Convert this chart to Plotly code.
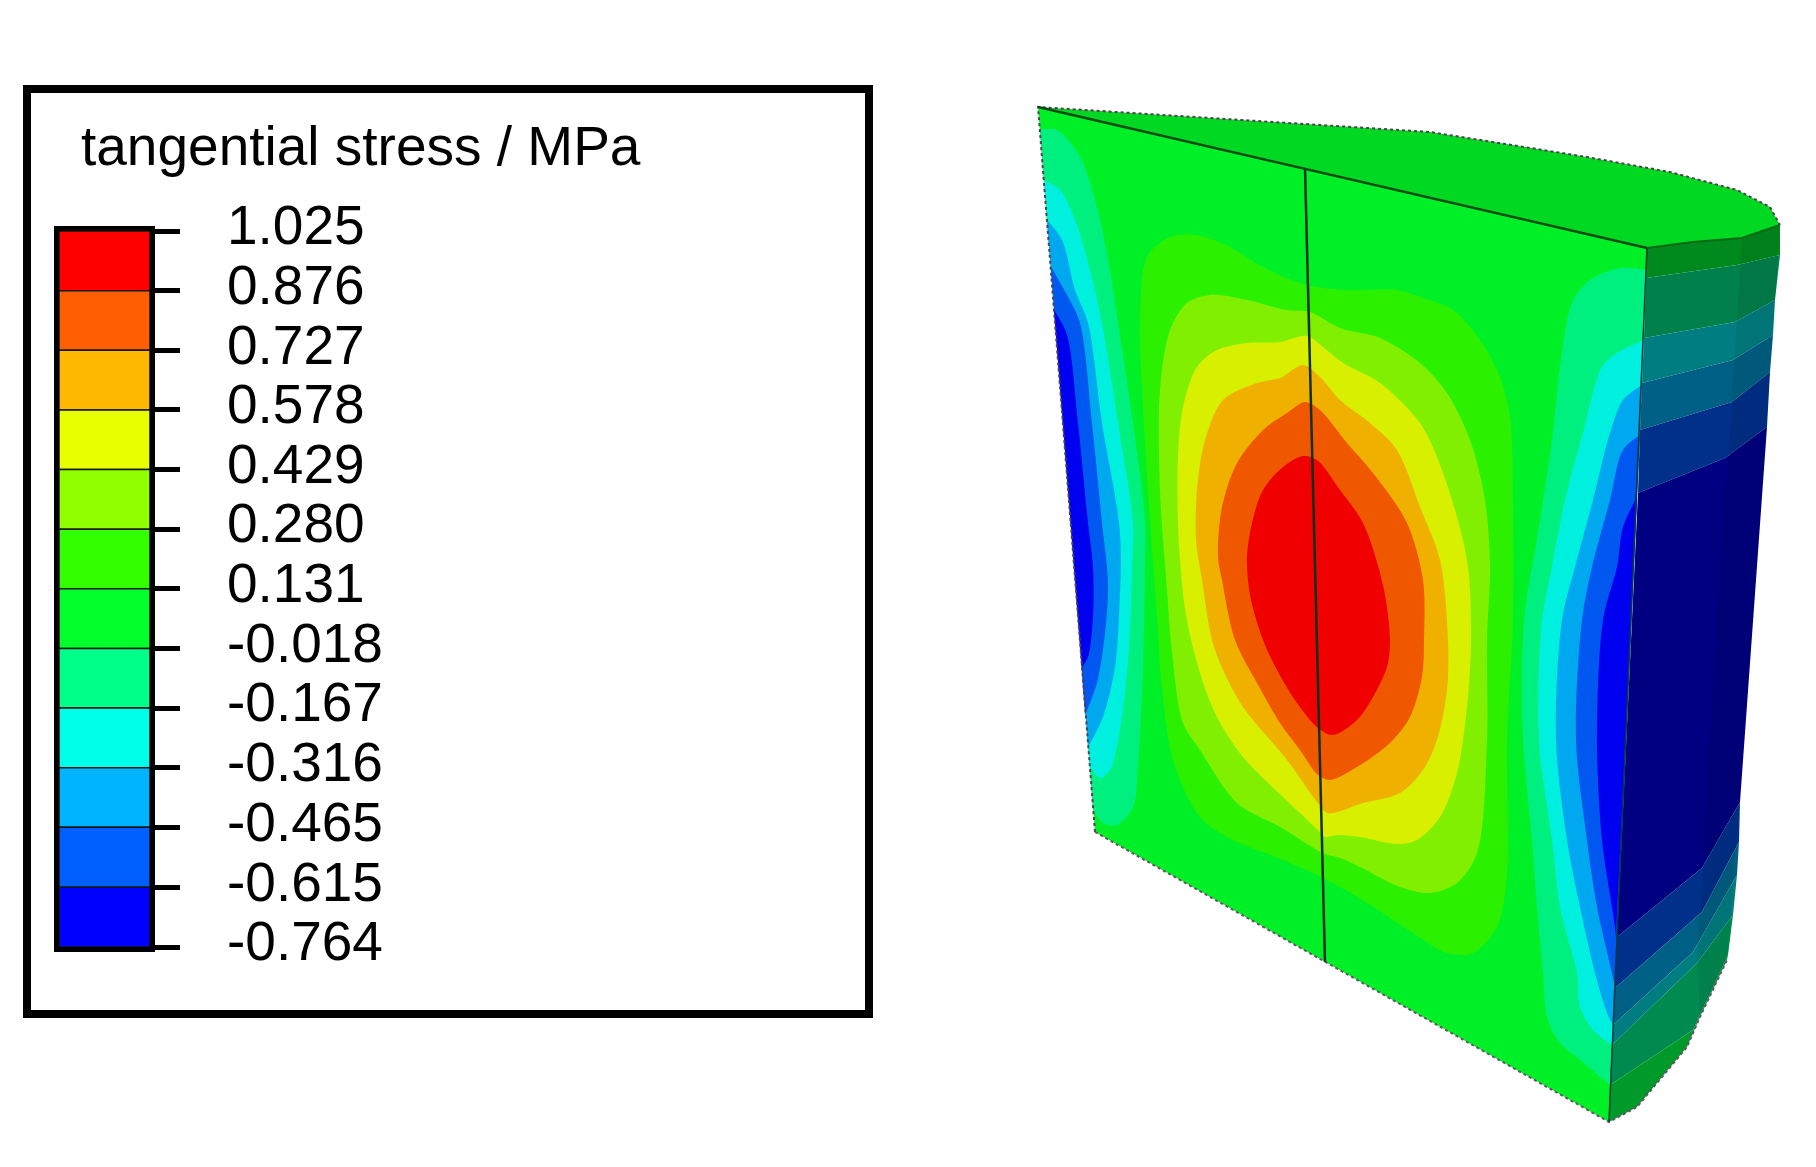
import plotly.graph_objects as go

# ---------- colour key ----------
LEVELS = [1.025, 0.876, 0.727, 0.578, 0.429, 0.280, 0.131, -0.018, -0.167, -0.316, -0.465, -0.615, -0.764]
LEVEL_LABELS = ["1.025", "0.876", "0.727", "0.578", "0.429", "0.280", "0.131", "-0.018", "-0.167", "-0.316", "-0.465", "-0.615", "-0.764"]
KEY_COLORS = ["#ff0000", "#ff5f00", "#ffb800", "#e8ff00", "#90ff00", "#33ff00", "#00ff2b", "#00ff88", "#00ffe8", "#00b4ff", "#0060ff", "#0000ff"]
KEY_TITLE = "tangential stress / MPa"

# ---------- model outline ----------
FRONT_FACE = [(1038, 107), (1647, 248), (1609, 1122), (1095, 832)]
TOP_FACE = [(1038, 107), (1430, 132), (1500, 143), (1587, 157), (1670, 172), (1737, 190), (1770, 207), (1780, 225), (1742, 238), (1693, 242), (1647, 248)]
SPLIT_LINE = [(1305, 168), (1325, 962)]
OUTLINE = [(1095, 832), (1038, 107), (1430, 132), (1500, 143), (1587, 157), (1670, 172), (1737, 190), (1770, 207), (1780, 225)]
LOWER_EDGE = [(1095, 832), (1609, 1122), (1637, 1107), (1687, 1047), (1700, 1017), (1727, 960)]

# ---------- contour bands on the front face ----------
C_GREEN = [(1140, 323), (1147, 257), (1170, 237), (1197, 235), (1230, 247), (1263, 267), (1307, 285), (1347, 290), (1397, 290), (1420, 297), (1453, 310), (1480, 340), (1500, 377), (1510, 417), (1513, 500), (1513, 620), (1507, 740), (1507, 873), (1497, 927), (1473, 953), (1447, 953), (1413, 933), (1367, 903), (1327, 880), (1283, 860), (1233, 840), (1200, 817), (1173, 760), (1162, 688), (1157, 616), (1155, 590), (1148, 490), (1142, 390), (1140, 323)]
C_LIME = [(1160, 390), (1170, 330), (1187, 303), (1210, 295), (1247, 300), (1287, 310), (1310, 312), (1340, 328), (1380, 338), (1420, 363), (1447, 393), (1470, 440), (1485, 500), (1490, 567), (1487, 640), (1487, 740), (1477, 853), (1457, 883), (1430, 893), (1400, 887), (1360, 867), (1340, 858), (1323, 853), (1280, 827), (1237, 803), (1200, 750), (1183, 723), (1172, 652), (1167, 590), (1160, 490), (1160, 390)]
C_YELLOW = [(1178, 457), (1183, 407), (1197, 367), (1217, 350), (1247, 343), (1280, 342), (1307, 336), (1323, 347), (1343, 363), (1380, 383), (1420, 423), (1437, 457), (1457, 517), (1468, 567), (1471, 640), (1467, 707), (1457, 773), (1440, 817), (1417, 840), (1397, 844), (1360, 837), (1337, 835), (1325, 837), (1318, 830), (1283, 797), (1243, 757), (1217, 717), (1200, 673), (1186, 615), (1180, 560), (1178, 523), (1178, 457)]
C_AMBER = [(1197, 490), (1205, 440), (1223, 400), (1257, 383), (1280, 378), (1303, 365), (1320, 377), (1340, 400), (1370, 423), (1397, 450), (1420, 507), (1440, 560), (1448, 640), (1447, 690), (1437, 740), (1423, 770), (1400, 793), (1363, 803), (1328, 813), (1318, 803), (1287, 760), (1243, 707), (1223, 670), (1212, 640), (1202, 580), (1196, 540), (1197, 490)]
C_ORANGE = [(1218, 557), (1222, 507), (1237, 463), (1263, 430), (1287, 413), (1305, 402), (1320, 410), (1347, 443), (1373, 473), (1407, 523), (1423, 580), (1424, 640), (1422, 677), (1410, 717), (1390, 743), (1357, 767), (1330, 780), (1318, 775), (1300, 750), (1280, 723), (1257, 683), (1235, 640), (1222, 580), (1218, 557)]
C_RED = [(1247, 557), (1252, 523), (1263, 490), (1283, 467), (1303, 456), (1317, 460), (1340, 490), (1363, 523), (1383, 585), (1390, 640), (1387, 667), (1373, 697), (1357, 720), (1333, 735), (1318, 728), (1297, 703), (1277, 670), (1263, 640), (1250, 595), (1247, 557)]

L_SPRING = [(1040, 130), (1057, 130), (1080, 157), (1097, 207), (1110, 270), (1118, 323), (1133, 423), (1145, 523), (1145, 567), (1143, 667), (1138, 767), (1133, 807), (1117, 825), (1103, 823), (1093, 810)]
L_CYAN = [(1044, 180), (1060, 190), (1075, 220), (1090, 270), (1102, 323), (1118, 423), (1133, 523), (1132, 567), (1130, 633), (1122, 717), (1110, 770), (1100, 778), (1090, 767)]
L_SKY = [(1047, 220), (1062, 240), (1075, 290), (1088, 323), (1102, 423), (1120, 533), (1119, 617), (1115, 667), (1103, 717), (1088, 747)]
L_BLUE = [(1051, 267), (1067, 295), (1080, 323), (1092, 423), (1102, 523), (1108, 583), (1105, 633), (1097, 683), (1085, 715)]
L_DEEP = [(1054, 310), (1067, 335), (1078, 423), (1088, 523), (1093, 567), (1093, 617), (1088, 657), (1082, 667)]

R_SPRING = [(1646, 270), (1620, 268), (1590, 280), (1573, 300), (1560, 367), (1553, 433), (1538, 533), (1524, 620), (1523, 740), (1532, 840), (1537, 907), (1543, 973), (1547, 1017), (1560, 1043), (1580, 1060), (1610, 1085)]
R_CYAN = [(1644, 340), (1617, 353), (1602, 367), (1583, 433), (1565, 500), (1552, 567), (1542, 620), (1539, 740), (1552, 840), (1560, 907), (1577, 973), (1580, 1007), (1593, 1030), (1612, 1045)]
R_SKY = [(1642, 385), (1623, 400), (1610, 433), (1593, 500), (1575, 567), (1562, 620), (1556, 740), (1567, 840), (1580, 907), (1595, 973), (1607, 1013), (1613, 1025)]
R_BLUE = [(1640, 435), (1623, 450), (1610, 500), (1592, 567), (1582, 620), (1576, 740), (1587, 840), (1597, 907), (1612, 973), (1615, 988)]
R_DEEP = [(1637, 497), (1623, 527), (1617, 567), (1603, 620), (1597, 740), (1602, 840), (1612, 907), (1616, 935)]

FACE_COLORS = {
    "front": "#00f028", "top": "#00d822", "green": "#2bf000", "lime": "#80f000", "yellow": "#d8f000",
    "amber": "#f0b000", "orange": "#f05800", "red": "#f00000", "spring": "#00f080", "cyan": "#00f0e0",
    "sky": "#00a8f0", "blue": "#0058f0", "deep": "#0000f0",
}

# ---------- shaded side face: band boundaries, upper then lower ----------
SIDE_LINES = [
    [(1647, 248), (1693, 242), (1742, 238), (1780, 225)],
    [(1646, 278), (1737, 265), (1780, 255)],
    [(1644, 338), (1735, 322), (1775, 300)],
    [(1642, 383), (1733, 360), (1773, 335)],
    [(1640, 430), (1732, 402), (1770, 372)],
    [(1638, 493), (1725, 458), (1767, 427)],
    [(1617, 937), (1702, 868), (1740, 802)],
    [(1615, 988), (1702, 912), (1739, 842)],
    [(1613, 1025), (1693, 952), (1737, 875)],
    [(1612, 1045), (1697, 963), (1733, 915)],
    [(1610, 1085), (1693, 1030), (1728, 955)],
    [(1609, 1122), (1637, 1107), (1687, 1047), (1700, 1017), (1727, 960)],
]
SIDE_COLORS = ["#008a1e", "#00804a", "#007d80", "#005f85", "#00308a", "#000080", "#00308a", "#005f85", "#007d80", "#008a50", "#009a2a"]
SIDE_FACET = [(1742, 238), (1730, 433), (1717, 620), (1703, 865), (1697, 950), (1700, 1017), (1727, 960), (1753, 620), (1780, 225)]

fig = go.Figure()


def poly(points, color, smooth=False):
    xs, ys = zip(*points)
    line = dict(width=0, color=color)
    if smooth:
        line.update(shape="spline", smoothing=0.9)
    fig.add_trace(go.Scatter(x=list(xs), y=list(ys), mode="lines", fill="toself", fillcolor=color, line=line, hoverinfo="skip"))


def stroke(points, color, width, dash="solid"):
    xs, ys = zip(*points)
    fig.add_trace(go.Scatter(x=list(xs), y=list(ys), mode="lines", line=dict(color=color, width=width, dash=dash), hoverinfo="skip"))


poly(FRONT_FACE, FACE_COLORS["front"])
for pts, key in [(C_GREEN, "green"), (C_LIME, "lime"), (C_YELLOW, "yellow"), (C_AMBER, "amber"), (C_ORANGE, "orange"), (C_RED, "red")]:
    poly(pts, FACE_COLORS[key], smooth=True)
for pts, key in [(L_SPRING, "spring"), (L_CYAN, "cyan"), (L_SKY, "sky"), (L_BLUE, "blue"), (L_DEEP, "deep"),
                 (R_SPRING, "spring"), (R_CYAN, "cyan"), (R_SKY, "sky"), (R_BLUE, "blue"), (R_DEEP, "deep")]:
    poly(pts, FACE_COLORS[key], smooth=True)
poly(TOP_FACE, FACE_COLORS["top"])
for upper, lower, color in zip(SIDE_LINES[:-1], SIDE_LINES[1:], SIDE_COLORS):
    poly(upper + lower[::-1], color)
poly(SIDE_FACET, "rgba(0,0,0,0.07)")

stroke(OUTLINE, "#5a3a55", 2, "dot")
stroke(LOWER_EDGE, "#6a5068", 2, "dot")
stroke(SPLIT_LINE, "#10301a", 2.5)
stroke([FRONT_FACE[0], FRONT_FACE[1]], "#0a4a18", 2.5)
stroke(SIDE_LINES[0], "#006a14", 2)
stroke([FRONT_FACE[1], FRONT_FACE[2]], "#063a3a", 1.5)

# colour key through its own axis
for high, low, color in zip(LEVELS[:-1], LEVELS[1:], KEY_COLORS):
    fig.add_trace(go.Bar(x=[0], y=[high - low], base=[low], width=1, marker=dict(color=color, line=dict(color="#151515", width=1.5)),
                         xaxis="x2", yaxis="y2", hoverinfo="skip"))

# the page adds an 8 px body margin, so the figure is 8 px smaller and its axes start at 8
PAGE_W, PAGE_H, BODY = 1816, 1167, 8
W, H = PAGE_W - BODY, PAGE_H - BODY
FONT = "Liberation Sans, Arial"


def px(x):
    return (x - BODY) / W


def py(y):
    return 1 - (y - BODY) / H


fig.update_layout(
    template="none",
    width=W, height=H, margin=dict(l=0, r=0, t=0, b=0), showlegend=False, autosize=False,
    paper_bgcolor="white", plot_bgcolor="rgba(0,0,0,0)", barmode="overlay",
    xaxis=dict(range=[BODY, PAGE_W], domain=[0, 1], visible=False, fixedrange=True, automargin=False),
    yaxis=dict(range=[PAGE_H, BODY], domain=[0, 1], visible=False, fixedrange=True, automargin=False),
    xaxis2=dict(domain=[px(59), px(150)], range=[-0.5, 0.5], anchor="y2", showticklabels=False, ticks="", automargin=False,
                showline=True, linecolor="black", linewidth=5, mirror=True, showgrid=False, zeroline=False),
    yaxis2=dict(domain=[py(947), py(231)], range=[LEVELS[-1], LEVELS[0]], anchor="x2", side="right", automargin=False,
                tickmode="array", tickvals=LEVELS, ticktext=LEVEL_LABELS, ticks="outside", ticklen=25, tickwidth=5,
                tickcolor="black", showline=True, linecolor="black", linewidth=5, mirror=True, showgrid=False, zeroline=False,
                ticklabelstandoff=36, ticklabelshift=-6,
                tickfont=dict(family=FONT, size=55, color="black")),
    shapes=[dict(type="rect", xref="paper", yref="paper", x0=px(27), x1=px(869), y0=py(1014), y1=py(89),
                 line=dict(color="black", width=8), fillcolor="rgba(0,0,0,0)", layer="below")],
    annotations=[dict(text=KEY_TITLE, xref="paper", yref="paper", x=px(79), y=py(146), xanchor="left", yanchor="middle",
                      showarrow=False, font=dict(family=FONT, size=55, color="black"))],
)

fig.write_html("out.html")
